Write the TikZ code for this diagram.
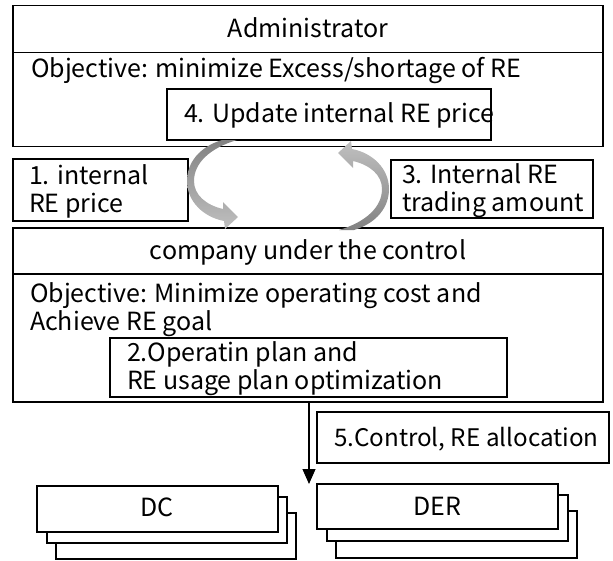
\documentclass[tikz,border=0pt]{standalone}
\usepackage{fontspec}
\setmainfont{Noto Sans CJK JP}
\usetikzlibrary{arrows.meta}
\tikzset{
  rbox/.style={draw, line width=1.1pt, rectangle, inner sep=0pt, outer sep=0pt, fill=white},
  txt/.style={inner sep=0pt, outer sep=0pt, anchor=base west, align=left, font=\fontsize{25}{28}\selectfont},
  ctxt/.style={inner sep=0pt, outer sep=0pt, anchor=base, font=\fontsize{25}{28}\selectfont},
  darkg/.style={top color={rgb,255:red,130;green,130;blue,130}, bottom color={rgb,255:red,192;green,192;blue,192}},
  lightg/.style={top color={rgb,255:red,192;green,192;blue,192}, bottom color={rgb,255:red,130;green,130;blue,130}},
}
\begin{document}
\begin{tikzpicture}[x=1pt,y=-1pt]
\useasboundingbox (0,0) rectangle (613,560);
% Administrator
\node[rbox, minimum width=590pt, minimum height=141pt] (admin) at (308,76.2) {};
\draw[line width=1.1pt] (admin.west |- 0,52.3) -- (admin.east |- 0,52.3);
\node[ctxt] (admintitle) at (308,37.5) {Administrator};
\node[txt] (adminobj) at (31,77) {Objective: minimize Excess/shortage of RE};
\node[rbox, minimum width=324pt, minimum height=51pt] (upd) at (329,114.5) {};
\node[txt] (updtxt) at (184,122) {4. Update internal RE price};
% side labels
\node[rbox, minimum width=175pt, minimum height=62pt] (lab1) at (100.5,190) {};
\node[txt] (lab1txt) at (29,212) {1. internal\\RE price};
\node[rbox, minimum width=202pt, minimum height=58pt] (lab3) at (492,189) {};
\node[txt] (lab3txt) at (402,211) {3. Internal RE\\trading amount};
% company
\node[rbox, minimum width=590pt, minimum height=174pt] (comp) at (308,315) {};
\draw[line width=1.1pt] (comp.west |- 0,274) -- (comp.east |- 0,274);
\node[ctxt] (comptitle) at (308,259) {company under the control};
\node[txt] (compobj) at (30,330.5) {Objective: Minimize operating cost and\\Achieve RE goal};
\node[rbox, minimum width=397pt, minimum height=59pt] (plan) at (308.5,367.5) {};
\node[txt] (plantxt) at (127,389) {2.Operatin plan and\\RE usage plan optimization};
% curved arrows
\shade[darkg] (222,140) .. controls (199,147) and (187,163) .. (187,181)
  .. controls (187,201) and (203,217) .. (224,221)
  -- (225,229) -- (238,217) -- (223,202) -- (223,209)
  .. controls (206,205) and (194,195) .. (194,181)
  .. controls (194,163) and (210,148) .. (237,140) -- cycle;
\shade[lightg] (354,230) .. controls (377,223) and (389,207) .. (389,189)
  .. controls (389,169) and (373,153) .. (352,149)
  -- (351,141) -- (338,153) -- (353,168) -- (353,161)
  .. controls (370,165) and (382,175) .. (382,189)
  .. controls (382,207) and (366,222) .. (339,230) -- cycle;
% control arrow
\coordinate (arrend) at (309,484);
\draw[line width=1.2pt, -{Triangle[length=15pt,width=13pt]}] (comp.south -| arrend) -- (arrend);
\node[rbox, minimum width=292pt, minimum height=51pt] (ctrl) at (463,437.5) {};
\node[txt, font=\fontsize{24.2}{28}\selectfont] (ctrltxt) at (334,446) {5.Control, RE allocation};
% DC stack
\node[rbox, minimum width=240pt, minimum height=46pt] (dc3) at (176,536) {};
\node[rbox, minimum width=240pt, minimum height=46pt] (dc2) at (167,520) {};
\node[rbox, minimum width=241pt, minimum height=46pt] (dc1) at (157.5,509) {};
\node[ctxt] (dctxt) at (157,516) {DC};
% DER stack
\node[rbox, minimum width=241pt, minimum height=47pt] (der3) at (456.5,534.5) {};
\node[rbox, minimum width=241pt, minimum height=46pt] (der2) at (447.5,518) {};
\node[rbox, minimum width=241pt, minimum height=45pt] (der1) at (437.5,506.5) {};
\node[ctxt] (dertxt) at (437,515) {DER};
\end{tikzpicture}
\end{document}
